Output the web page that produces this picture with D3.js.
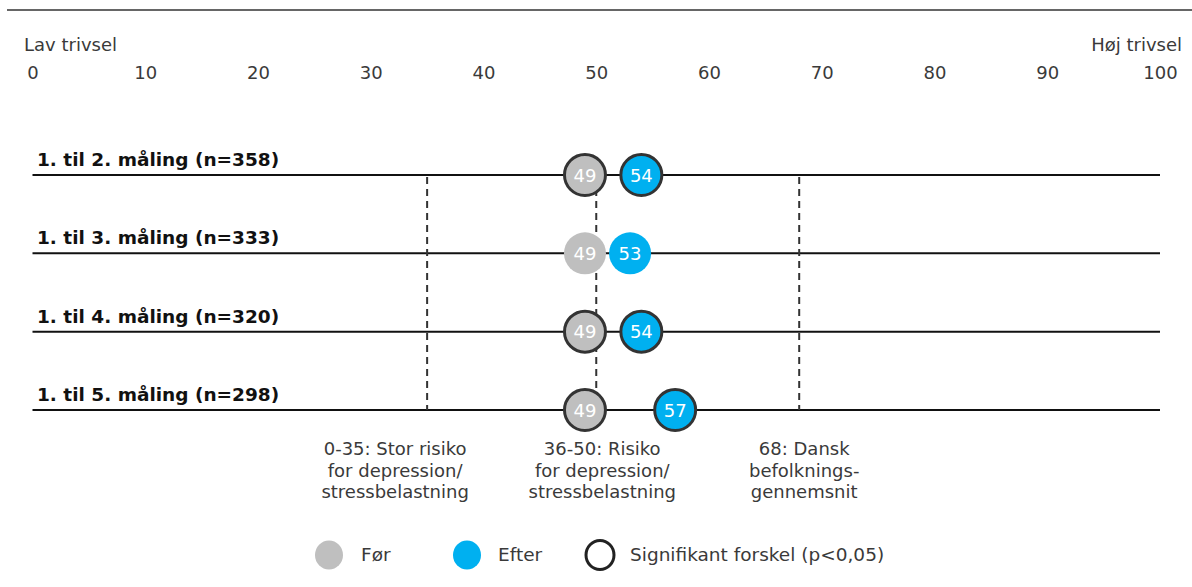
<!DOCTYPE html>
<html>
<head>
<meta charset="utf-8">
<script src="https://cdn.jsdelivr.net/npm/d3@7"></script>
<style>
  html, body { margin: 0; padding: 0; background: #fff; }
  svg { display: block; font-family: "DejaVu Sans", Verdana, sans-serif; }
</style>
</head>
<body>
<svg id="chart" width="1192" height="587"></svg>
<script>
// Trivselsmålinger: gennemsnitlig score før og efter for hver måling
const rowLabels = [
  "1. til 2. måling (n=358)",
  "1. til 3. måling (n=333)",
  "1. til 4. måling (n=320)",
  "1. til 5. måling (n=298)"
];
const beforeValues = [49, 49, 49, 49];
const afterValues = [54, 53, 54, 57];
const significant = [true, false, true, true];
const tickValues = [0, 10, 20, 30, 40, 50, 60, 70, 80, 90, 100];
const refValues = [35, 50, 68];
const refNotes = [
  ["0-35: Stor risiko", "for depression/", "stressbelastning"],
  ["36-50: Risiko", "for depression/", "stressbelastning"],
  ["68: Dansk", "befolknings-", "gennemsnit"]
];
const legendLabels = ["Før", "Efter", "Signifikant forskel (p<0,05)"];

const GREY = "#bfbfbf", BLUE = "#00b0f0", INK = "#333333", TEXT = "#3a3a3a";
const FS = 18;

const svg = d3.select("#chart");

const x = d3.scaleLinear().domain([0, 100]).range([32.5, 1160]);
const y = d3.scalePoint().domain(rowLabels).range([175, 410]);

// top rule
svg.append("line")
  .attr("x1", 7).attr("x2", 1192).attr("y1", 10).attr("y2", 10)
  .attr("stroke", INK).attr("stroke-width", 1.5);

// scale end captions
svg.append("text").attr("x", 24).attr("y", 51)
  .attr("font-size", FS).attr("fill", TEXT).text("Lav trivsel");
svg.append("text").attr("x", 1182).attr("y", 51).attr("text-anchor", "end")
  .attr("font-size", FS).attr("fill", TEXT).text("Høj trivsel");

// top axis with tick labels only
const axis = d3.axisTop(x).tickValues(tickValues).tickSize(0).tickPadding(0);
const gAxis = svg.append("g").attr("transform", "translate(0,79)").call(axis);
gAxis.select(".domain").remove();
gAxis.selectAll("text")
  .attr("font-size", FS).attr("fill", TEXT)
  .attr("font-family", "DejaVu Sans, Verdana, sans-serif")
  .attr("dy", 0);

// row lines and labels
const rows = svg.append("g");
rows.selectAll("line").data(rowLabels).join("line")
  .attr("x1", x(0)).attr("x2", x(100))
  .attr("y1", d => y(d)).attr("y2", d => y(d))
  .attr("stroke", "#111").attr("stroke-width", 2);
rows.selectAll("text").data(rowLabels).join("text")
  .attr("x", 37).attr("y", d => y(d) - 9)
  .attr("font-size", 18.5).attr("font-weight", "bold").attr("fill", "#111")
  .text(d => d);

// dashed reference lines
svg.append("g").selectAll("line").data(refValues).join("line")
  .attr("x1", d => x(d)).attr("x2", d => x(d))
  .attr("y1", y(rowLabels[0]) + 2).attr("y2", y(rowLabels[rowLabels.length - 1]))
  .attr("stroke", INK).attr("stroke-width", 2).attr("stroke-dasharray", "7,5");

// reference notes
const noteShift = [-32, 6, 5];
const notes = svg.append("g").selectAll("text").data(refValues).join("text")
  .attr("x", (d, i) => x(d) + noteShift[i]).attr("y", 455)
  .attr("text-anchor", "middle").attr("font-size", FS).attr("fill", TEXT);
notes.each(function(d, i) {
  d3.select(this).selectAll("tspan").data(refNotes[i]).join("tspan")
    .attr("x", x(d) + noteShift[i]).attr("dy", (t, j) => j === 0 ? 0 : 21.5)
    .text(t => t);
});

// before / after markers
const R = 21;
function drawMarkers(values, color) {
  const g = svg.append("g");
  const pts = values.map((v, i) => ({ v, row: rowLabels[i], sig: significant[i] }));
  g.selectAll("circle").data(pts).join("circle")
    .attr("cx", d => x(d.v)).attr("cy", d => y(d.row))
    .attr("r", d => d.sig ? R - 0.5 : R)
    .attr("fill", color)
    .attr("stroke", d => d.sig ? INK : "none")
    .attr("stroke-width", 3);
  g.selectAll("text").data(pts).join("text")
    .attr("x", d => x(d.v)).attr("y", d => y(d.row) + 6.5)
    .attr("text-anchor", "middle").attr("font-size", FS).attr("fill", "#fff")
    .text(d => d3.format("d")(d.v));
}
drawMarkers(beforeValues, GREY);
drawMarkers(afterValues, BLUE);

// legend
const legend = svg.append("g");
const lg = [
  { cx: 329, fill: GREY, stroke: "none", tx: 361 },
  { cx: 467, fill: BLUE, stroke: "none", tx: 498 },
  { cx: 600, fill: "none", stroke: "#222", tx: 630 }
];
legend.selectAll("ellipse").data(lg).join("ellipse")
  .attr("cx", d => d.cx).attr("cy", 555).attr("rx", 14).attr("ry", 14.5)
  .attr("fill", d => d.fill).attr("stroke", d => d.stroke).attr("stroke-width", 3);
legend.selectAll("text").data(lg).join("text")
  .attr("x", d => d.tx).attr("y", 561)
  .attr("font-size", 18.5).attr("fill", TEXT)
  .text((d, i) => legendLabels[i]);
</script>
</body>
</html>
